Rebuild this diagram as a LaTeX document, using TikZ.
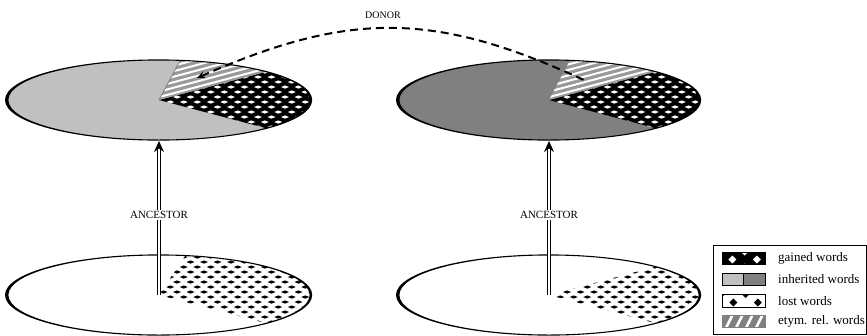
\documentclass[tikz,border=0pt]{standalone}
\usepackage{fontspec}
\setmainfont{Liberation Serif}
\usetikzlibrary{arrows.meta}

\definecolor{inhlight}{HTML}{C0C0C0}
\definecolor{inhdark}{HTML}{808080}
\definecolor{etymgray}{HTML}{999999}

% staggered grid of diamonds: x0, y0, last column, last row, dx, dy, half width, half height, colour
\newcommand\diamondgrid[9]{%
  \foreach \j in {0,...,#4}{%
    \foreach \i in {0,...,#3}{%
      \pgfmathsetmacro\cx{#1+#5*\i+0.5*#5*mod(\j,2)}%
      \pgfmathsetmacro\cy{#2+#6*\j}%
      \fill[#9] (\cx-#7,\cy) -- (\cx,\cy-#8) -- (\cx+#7,\cy) -- (\cx,\cy+#8) -- cycle;
    }}}

% slightly tilted white stripes over a band starting at x0
\newcommand\stripes[3]{%
  \foreach \k in {0,...,22}{%
    \draw[white,line width=2pt] (#1,#2+5.5*\k) -- (#1+150,#2+5.5*\k-#3);
  }}

\tikzset{
  rim/.style={fill=black, even odd rule},
  descent/.style={line width=1.1pt, double distance=2.2pt, -{Stealth[length=11pt,width=10pt]}},
  borrow/.style={line width=2pt, dash pattern=on 8pt off 5pt, {Stealth[length=8pt,width=7pt]}-},
  caption/.style={font=\fontsize{11}{13}\selectfont, fill=white, inner sep=1.5pt},
  legendtext/.style={font=\fontsize{13}{15}\selectfont, anchor=west, inner sep=0pt},
  swatch/.style={draw=black, line width=0.8pt},
}

\begin{document}
\begin{tikzpicture}[x=1pt,y=-1pt]
\useasboundingbox (0,0) rectangle (867,335);

\coordinate (TL) at (159,100);
\coordinate (TR) at (549,100);
\coordinate (BL) at (159,295);
\coordinate (BR) at (549,295);
\coordinate (TLb) at (159,141);
\coordinate (TRb) at (549,141);

% ---------- upper left disc ----------
\fill[inhlight] (TL) ellipse[x radius=152, y radius=40];
\begin{scope}
  \clip (TL) -- +(-45:152 and 40) arc[start angle=-45, end angle=45, x radius=152, y radius=40] -- cycle;
  \fill[black] (150,55) rectangle (320,145);
  \diamondgrid{150}{57}{13}{18}{13.5}{5}{4}{1.6}{white}
\end{scope}
\begin{scope}
  \clip (TL) -- +(-82:152 and 40) arc[start angle=-82, end angle=-45, x radius=152, y radius=40] -- cycle;
  \fill[etymgray] (150,55) rectangle (300,105);
  \stripes{150}{50}{40}
\end{scope}
\draw[gray, line width=0.8pt] (TL) -- +(-82:152 and 40);
\fill[rim] (TL) ++(-0.4,0) ellipse[x radius=153.6, y radius=40.6] (TL) ellipse[x radius=150.6, y radius=39.5];

% ---------- upper right disc ----------
\fill[inhdark] (TR) ellipse[x radius=151, y radius=40];
\begin{scope}
  \clip (TR) -- +(-45:151 and 40) arc[start angle=-45, end angle=45, x radius=151, y radius=40] -- cycle;
  \fill[black] (540,55) rectangle (710,145);
  \diamondgrid{540}{57}{13}{18}{13.5}{5}{4}{1.6}{white}
\end{scope}
\begin{scope}
  \clip (TR) -- +(-82:151 and 40) arc[start angle=-82, end angle=-45, x radius=151, y radius=40] -- cycle;
  \fill[etymgray] (540,55) rectangle (700,105);
  \stripes{540}{50}{40}
\end{scope}
\fill[rim] (TR) ++(-0.4,0) ellipse[x radius=152.6, y radius=40.6] (TR) ellipse[x radius=149.6, y radius=39.5];

% ---------- lower left disc ----------
\begin{scope}
  \clip (BL) -- +(-80:152 and 40) arc[start angle=-80, end angle=45, x radius=152, y radius=40] -- cycle;
  \diamondgrid{150}{252}{13}{18}{13.5}{5}{4}{1.6}{black}
\end{scope}
\fill[rim] (BL) ++(-0.4,0) ellipse[x radius=153.6, y radius=40.6] (BL) ellipse[x radius=150.6, y radius=39.5];

% ---------- lower right disc ----------
\begin{scope}
  \clip (BR) -- +(-45:151 and 40) arc[start angle=-45, end angle=45, x radius=151, y radius=40] -- cycle;
  \diamondgrid{540}{252}{13}{18}{13.5}{5}{4}{1.6}{black}
\end{scope}
\fill[rim] (BR) ++(-0.4,0) ellipse[x radius=152.6, y radius=40.6] (BR) ellipse[x radius=149.6, y radius=39.5];

% ---------- descent arrows ----------
\draw[descent] (BL) -- (TLb);
\draw[descent] (BR) -- (TRb);
\node[caption] (ancL) at (159,215) {ANCESTOR};
\node[caption] (ancR) at (549,215) {ANCESTOR};

% ---------- borrowing ----------
\coordinate (dL) at (197,78);
\coordinate (dR) at (586,81);
\draw[borrow] (dL) .. controls (349,11) and (435,11) .. (dR);
\node[font=\fontsize{10}{12}\selectfont] (donor) at (383,15) {DONOR};

% ---------- legend ----------
\draw[line width=0.9pt] (713,245) rectangle (866.5,334.5);

\begin{scope}
  \clip (722,252) rectangle (765,264);
  \fill[black] (722,252) rectangle (765,264);
  \diamondgrid{720}{251.5}{3}{2}{24.5}{8}{4}{4}{white}
\end{scope}
\draw[swatch] (722,252) rectangle (765,264);

\fill[inhlight] (722,273) rectangle (743.5,285.5);
\fill[inhdark] (743.5,273) rectangle (765,285.5);
\draw[swatch] (722,273) rectangle (765,285.5) (743.5,273) -- (743.5,285.5);

\begin{scope}
  \clip (722,294) rectangle (765,307);
  \diamondgrid{721}{294}{3}{2}{24.5}{8.5}{4}{4}{black}
\end{scope}
\draw[swatch] (722,294) rectangle (765,307);

\begin{scope}
  \clip (722,315) rectangle (765,327.5);
  \fill[inhdark] (722,315) rectangle (765,327.5);
  \foreach \s in {0,...,6}
    \draw[white, line width=2.6pt] (715+10*\s,330) -- (724+10*\s,312);
\end{scope}
\draw[swatch, draw=gray] (722,315) rectangle (765,327.5);

\node[legendtext] (lg1) at (778,258) {gained words};
\node[legendtext] (lg2) at (778,279.5) {inherited words};
\node[legendtext] (lg3) at (778,301) {lost words};
\node[legendtext] (lg4) at (778,321.5) {etym. rel. words};
\end{tikzpicture}
\end{document}
